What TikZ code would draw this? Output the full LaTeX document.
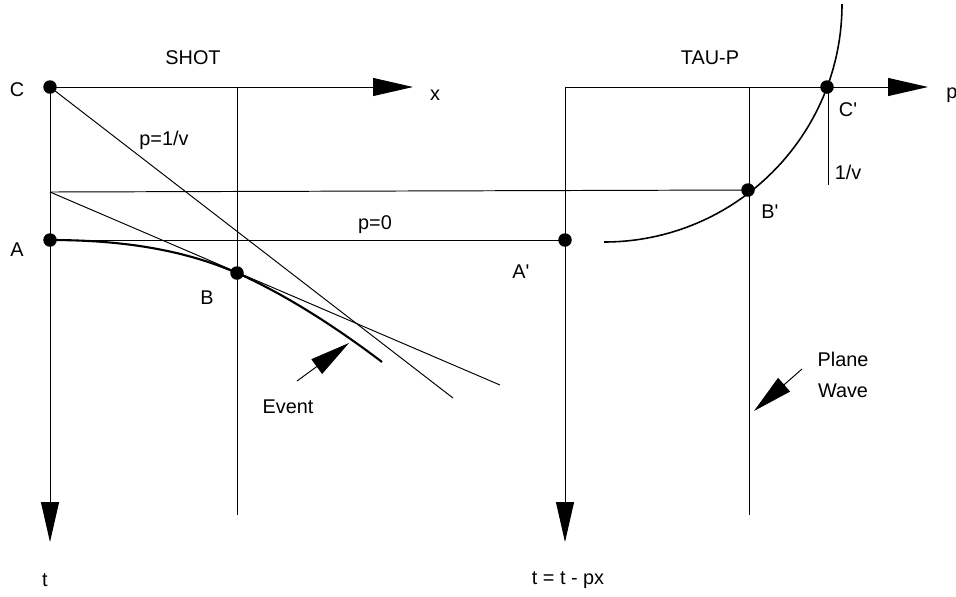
\documentclass[tikz,border=0pt]{standalone}
\usepackage{fontspec}
\newfontfamily\labelfont{Liberation Sans}
\usetikzlibrary{arrows.meta, positioning}

\begin{document}
\begin{tikzpicture}[x=0.02cm, y=-0.02cm, line width=0.55pt,
        dot/.style={circle, fill, inner sep=0pt, minimum size=0.27cm},
        lbl/.style={inner sep=0pt, font=\labelfont\fontsize{11.3}{17.6}\selectfont},
        big/.style={-{Triangle[length=0.8cm, width=0.36cm]}}]

    \useasboundingbox (0,0) rectangle (956,596);

    % shot side
    \coordinate (xend) at (413,87);
    \coordinate (tend) at (50,542);
    \coordinate (mid) at (50,192);
    \coordinate (vtop) at (237,87);
    \coordinate (vbot) at (237,515);
    \coordinate (rayend) at (453,398);
    \coordinate (tanend) at (500,385);
    \coordinate (evend) at (382,362);

    % tau-p side
    \coordinate (porg) at (565,87);
    \coordinate (pend) at (928,87);
    \coordinate (tauend) at (565,542);
    \coordinate (wtop) at (749,87);
    \coordinate (wbot) at (749,515);
    \coordinate (vtick) at (828,87);
    \coordinate (vtickb) at (828,185);
    \coordinate (crvstart) at (604,242);
    \coordinate (crvend) at (842,4);

    \node[dot] (C) at (50,87) {};
    \node[dot] (A) at (50,240) {};
    \node[dot] (B) at (237,273) {};
    \node[dot] (A') at (565,240) {};
    \node[dot] (B') at (748,190) {};
    \node[dot] (C') at (827,87) {};

    \draw[-] (C.center) -- (rayend);
    \draw[-] (mid) -- (tanend);
    \draw[line width=1.2pt] (A.center) .. controls (120,240) and (182,249) .. (B.center)
        .. controls (287,295) and (340,330) .. (evend);
    \draw[big] (C.center) -- (xend);
    \draw[big] (C.center) -- (tend);
    \draw[-] (vtop) -- (vbot);
    \draw[-] (mid) -- (B'.center);
    \draw[-] (A.center) -- (A'.center);

    \draw[big] (porg) -- (pend);
    \draw[big] (porg) -- (tauend);
    \draw[-] (wtop) -- (wbot);
    \draw[-] (vtick) -- (vtickb);
    \draw[line width=0.9pt] (crvstart) .. controls (735,242) and (842,136) .. (crvend);

    \coordinate (evtail) at (297,381);
    \coordinate (evtip) at (349,343);
    \draw[big] (evtail) -- (evtip);
    \coordinate (pwtail) at (802,369);
    \coordinate (pwtip) at (754,411);
    \draw[big] (pwtail) -- (pwtip);

    \node[lbl] (shot) at (193,58) {SHOT};
    \node[lbl] (taup) at (710,58) {TAU-P};
    \node[lbl] (xl) at (435,95) {x};
    \node[lbl] (pl) at (952,95) {p};
    \node[lbl] (Cl) at (17,90) {C};
    \node[lbl] (Al) at (17,250) {A};
    \node[lbl] (Bl) at (207,298) {B};
    \node[lbl] (A'l) at (521,272) {A'};
    \node[lbl] (B'l) at (770,212) {B'};
    \node[lbl] (C'l) at (848,110) {C'};
    \node[lbl] (invv) at (848,172) {1/v};
    \node[lbl] (pv) at (164,140) {p=1/v};
    \node[lbl] (p0) at (375,225) {p=0};
    \node[lbl] (ev) at (288,407) {Event};
    \node[lbl, align=center] (pw) at (843,375) {Plane\\Wave};
    \node[lbl] (tl) at (45,580) {t};
    \node[lbl] (taul) at (568,580) {t = t - px};

\end{tikzpicture}
\end{document}
